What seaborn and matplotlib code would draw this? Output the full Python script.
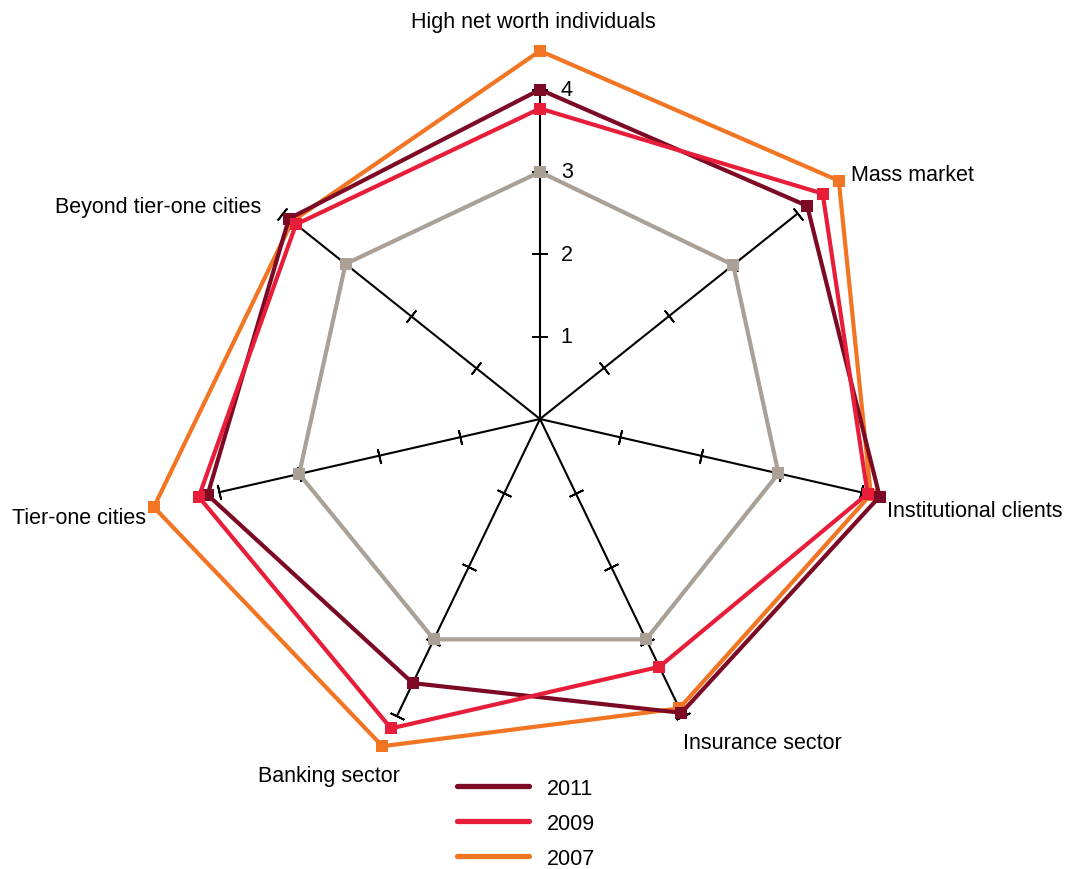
import numpy as np
import pandas as pd
import seaborn as sns
import matplotlib.pyplot as plt
from matplotlib.lines import Line2D

# Kategorier (med klokka fra toppen)
kategorier = ['High net worth individuals', 'Mass market', 'Institutional clients',
              'Insurance sector', 'Banking sector', 'Tier-one cities',
              'Beyond tier-one cities']

# Verdier lest av figuren
verdier_2011 = [4.0, 4.15, 4.23, 3.96, 3.56, 4.14, 3.9]
verdier_2009 = [3.77, 4.39, 4.08, 3.34, 4.17, 4.25, 3.79]
verdier_2007 = [4.47, 4.64, 4.12, 3.9, 4.41, 4.81, 3.85]
verdier_basis = [3.0, 3.0, 2.97, 2.97, 2.97, 3.0, 3.02]

aar = ['2011', '2009', '2007']
farger = {'2011': '#7d0a24', '2009': '#e81d3a', '2007': '#f27524', 'basis': '#aaa095'}
tegne_rekkefolge = ['basis', '2007', '2011', '2009']
tick_verdier = [1, 2, 3, 4]

# Plassering av kategoritekster: (vinkel i grader med klokka fra nord, radius, ha)
etikett_pos = [(-1.0, 4.83, 'center'), (51.8, 4.81, 'left'), (104.7, 4.36, 'left'),
               (156.1, 4.29, 'left'), (201.5, 4.65, 'right'), (255.9, 4.93, 'right'),
               (307.3, 4.25, 'right')]

sns.set_style('white')
plt.rcParams['font.family'] = ['Liberation Sans', 'DejaVu Sans']
plt.rcParams['font.size'] = 15.5
plt.rcParams['text.color'] = 'black'

n = len(kategorier)
vinkler = np.arange(n) * 2 * np.pi / n

# Lang-format tabell, lukker polygonet ved a gjenta forste punkt
rader = []
for navn, verdier in [('2011', verdier_2011), ('2009', verdier_2009),
                      ('2007', verdier_2007), ('basis', verdier_basis)]:
    for i in range(n + 1):
        rader.append({'serie': navn, 'vinkel': np.append(vinkler, 2 * np.pi)[i],
                      'verdi': verdier[i % n]})
df = pd.DataFrame(rader)

fig = plt.figure(figsize=(10.66, 8.7), dpi=100)
ax = fig.add_axes([120 / 1066, 30 / 870, 840 / 1066, 840 / 870], projection='polar')
ax.set_theta_zero_location('N')
ax.set_theta_direction(-1)
ax.set_ylim(0, 5.1)
ax.grid(False)
ax.spines['polar'].set_visible(False)
ax.set_xticks([])
ax.set_yticks([])

# Aksestraler med tverrstreker
for a in vinkler:
    ax.plot([a, a], [0, 4], color='black', lw=1.5, zorder=1)
    rot = 90 - np.degrees(a)
    ax.plot([a] * len(tick_verdier), tick_verdier, ls='none', marker=(2, 2, rot),
            ms=11, mew=1.3, color='black', zorder=1)

for v in tick_verdier:
    ax.annotate(str(v), xy=(0, v), xytext=(15, 0), textcoords='offset points',
                ha='left', va='center')

for serie in tegne_rekkefolge:
    sns.lineplot(data=df[df['serie'] == serie], x='vinkel', y='verdi', sort=False,
                 estimator=None, color=farger[serie], lw=3, marker='s', ms=8.5,
                 mew=0, ax=ax, legend=False, zorder=3)
ax.set_xlabel('')
ax.set_ylabel('')

for kat, (grader, r, ha) in zip(kategorier, etikett_pos):
    ax.text(np.radians(grader), r, kat, ha=ha, va='center')

handles = [Line2D([], [], color=farger[a], lw=3.8) for a in aar]
fig.legend(handles, aar, loc='upper left', bbox_to_anchor=(457 / 1066, 0.1046),
           frameon=False, borderaxespad=0, borderpad=0, handlelength=3.36,
           handletextpad=0.83, labelspacing=0.64)

plt.savefig('out.png', dpi=100)
